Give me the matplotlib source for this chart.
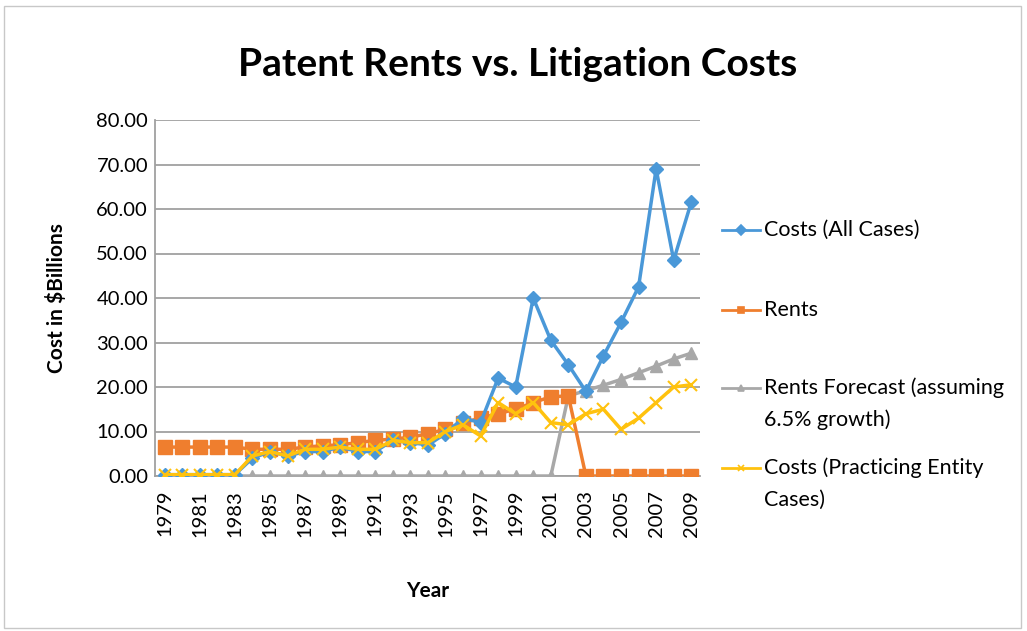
import matplotlib
matplotlib.use("Agg")
import matplotlib.pyplot as plt
from matplotlib.patches import Rectangle
from matplotlib.lines import Line2D

years = list(range(1979, 2010))
costs_all = [0.3, 0.3, 0.3, 0.3, 0.3, 4.0, 5.5, 4.5, 5.5, 5.5, 6.5, 5.5, 5.5, 8.0, 7.5, 7.0,
             9.5, 13.0, 12.0, 22.0, 20.0, 40.0, 30.5, 25.0, 19.0, 27.0, 34.5, 42.5, 69.0, 48.5, 61.5]
rents = [6.5, 6.5, 6.5, 6.5, 6.5, 6.0, 6.0, 6.0, 6.5, 6.8, 7.0, 7.5, 8.0, 8.3, 8.7, 9.5,
         10.5, 12.0, 13.0, 14.0, 15.0, 16.5, 17.8, 18.0, 0, 0, 0, 0, 0, 0, 0]
rents_forecast = [0, 0, 0, 0, 0, 0, 0, 0, 0, 0, 0, 0, 0, 0, 0, 0,
                  0, 0, 0, 0, 0, 0, 0, 18.0, 19.2, 20.4, 21.7, 23.2, 24.7, 26.3, 27.6]
costs_pe = [0.3, 0.3, 0.3, 0.3, 0.3, 4.5, 5.5, 4.5, 6.0, 6.0, 6.5, 6.0, 6.0, 8.0, 7.5, 7.5,
            10.0, 11.5, 9.0, 16.5, 14.0, 16.5, 12.0, 11.5, 14.0, 15.0, 10.5, 13.0, 16.5, 20.0, 20.5]

labels = [["Costs (All Cases)"], ["Rents"], ["Rents Forecast (assuming", "6.5% growth)"],
          ["Costs (Practicing Entity", "Cases)"]]
yticks = [0, 10, 20, 30, 40, 50, 60, 70, 80]

plt.rcParams['font.family'] = ['Lato', 'DejaVu Sans']

W, H = 1027, 631
fig = plt.figure(figsize=(W / 100, H / 100), dpi=100)
ax = fig.add_axes([155 / W, 1 - 476 / H, 545 / W, 356 / H])

c_blue = "#4A98D8"
c_orange = "#EF7E2E"
c_gray = "#A8A8A8"
c_yellow = "#FFC20E"
colors = [c_blue, c_orange, c_gray, c_yellow]
markers = ["D", "s", "^", "x"]

ax.plot(years, costs_all, color=c_blue, lw=2.5, marker="D", ms=7, zorder=5)
ax.plot(years, rents, color=c_orange, lw=2.5, marker="s", ms=10.5, zorder=4)
ax.plot(years, rents_forecast, color=c_gray, lw=2.5, marker="^", ms=9, zorder=3)
ax.plot(years, costs_pe, color=c_yellow, lw=2.5, marker="x", ms=8, mew=1.5, zorder=6)

ax.set_xlim(1978.45, 2009.5)
ax.set_ylim(0, 80)
ax.set_yticks(yticks)
ax.set_yticklabels([f"{v:.2f}" for v in yticks], fontsize=14.5)
ax.set_xticks(years)
ax.set_xticklabels([str(y) if (y - 1979) % 2 == 0 else "" for y in years], rotation=90, fontsize=14.5)
ax.tick_params(axis="x", length=0, pad=10)
ax.tick_params(axis="y", length=0, pad=5)
ax.grid(axis="y", color="#A0A0A0", lw=1.3)
ax.set_axisbelow(True)
for s in ["top", "right"]:
    ax.spines[s].set_visible(False)
for s in ["left", "bottom"]:
    ax.spines[s].set_color("#A0A0A0")
    ax.spines[s].set_linewidth(1.3)

ax.set_xlabel("Year", fontsize=15, fontweight="bold", labelpad=32)
ax.set_ylabel("Cost in $Billions", fontsize=15, fontweight="bold", labelpad=21)

fig.text(518 / W, 1 - 65 / H, "Patent Rents vs. Litigation Costs", ha="center", va="center",
         fontsize=28, fontweight="bold")

# legend (drawn manually to match spacing)
line_y = [[230], [310], [388, 420], [468, 500]]
for col, mk, labs, ys in zip(colors, markers, labels, line_y):
    yh = 1 - ys[0] / H
    fig.add_artist(Line2D([722 / W, 760 / W], [yh, yh], color=col, lw=2,
                          transform=fig.transFigure))
    fig.add_artist(Line2D([741 / W], [yh], color=col, marker=mk,
                          ms=5 if mk != "x" else 5, mew=1.2, transform=fig.transFigure))
    for lab, yy in zip(labs, ys):
        fig.text(764 / W, 1 - yy / H, lab, ha="left", va="center", fontsize=15.5)

fig.patches.append(Rectangle((0.004, 0.005), 0.99, 0.985, transform=fig.transFigure,
                             fill=False, edgecolor="#C8C8C8", lw=1))

fig.savefig("out.png", dpi=100)
